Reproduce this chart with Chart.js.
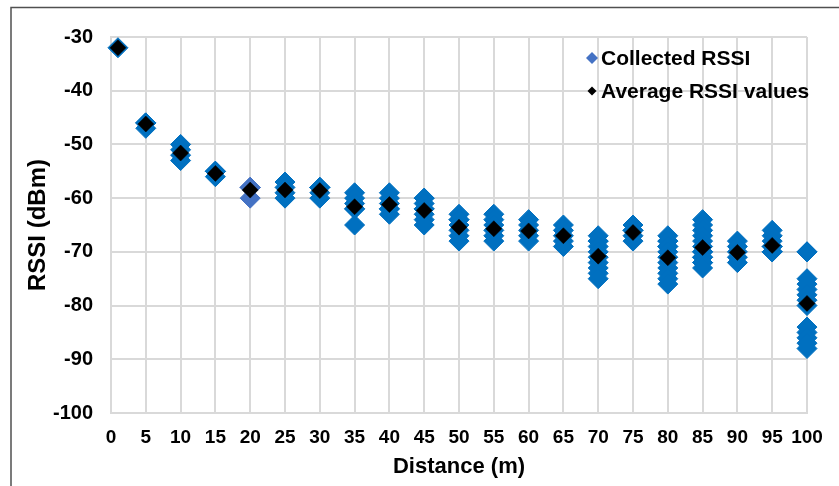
<!DOCTYPE html>
<html>
<head>
<meta charset="utf-8">
<script src="https://cdn.jsdelivr.net/npm/chart.js@4/dist/chart.umd.min.js"></script>
<style>
  html, body { margin: 0; padding: 0; background: #ffffff; }
  #wrap { width: 839px; height: 486px; }
</style>
</head>
<body>
<div id="wrap"><canvas id="rssi" width="839" height="486"></canvas></div>
<script>
// Measurement distances (m)
const distances = [1, 5, 10, 15, 20, 25, 30, 35, 40, 45, 50, 55, 60, 65, 70, 75, 80, 85, 90, 95, 100];

// Individual RSSI readings collected at each distance (dBm)
const collectedRssi = [
  [-32],
  [-46, -46, -46, -46, -47],
  [-50, -51, -52, -53],
  [-55, -55, -55, -56],
  [-58, -58, -58, -60],
  [-57, -58, -59, -60],
  [-58, -58, -58, -59, -60],
  [-59, -60, -61, -62, -62, -65],
  [-59, -60, -61, -62, -63, -62],
  [-60, -60, -61, -62, -62, -63, -64, -65],
  [-63, -64, -64, -65, -66, -67, -68],
  [-63, -64, -65, -66, -67, -68],
  [-64, -65, -66, -67, -68],
  [-65, -66, -67, -68, -69],
  [-67, -68, -68, -69, -70, -71, -72, -73, -74, -75],
  [-65, -66, -66, -67, -68],
  [-67, -68, -68, -69, -69, -70, -71, -72, -73, -74, -75, -76],
  [-64, -65, -66, -67, -68, -69, -70, -70, -71, -71, -72, -72, -73],
  [-68, -69, -70, -71, -72],
  [-66, -67, -68, -69, -69, -70, -70, -70],
  [-70, -70, -75, -76, -77, -78, -79, -80, -84, -85, -86, -87, -88]
];

// Average RSSI at each distance (dBm)
const averageRssi = [-32, -46.2, -51.6, -55.4, -58.5, -58.5, -58.6, -61.6, -61.2, -62.3,
  -65.4, -65.7, -66.1, -67.0, -70.8, -66.4, -71.1, -69.2, -70.1, -68.8, -79.6];

const seriesNames = ['Collected RSSI', 'Average RSSI values'];

const collectedPoints = distances.flatMap((d, i) => collectedRssi[i].map(v => ({ x: d, y: v })));
const averagePoints = distances.map((d, i) => ({ x: d, y: averageRssi[i] }));

const BLUE = '#0070C0';
const BLUE_ALT = '#4472C4';

// Outer frame around the chart
const framePlugin = {
  id: 'frame',
  beforeDraw(chart) {
    const ctx = chart.ctx;
    ctx.save();
    ctx.fillStyle = '#ffffff';
    ctx.fillRect(0, 0, chart.width, chart.height);
    ctx.strokeStyle = '#505050';
    ctx.lineWidth = 1.5;
    ctx.strokeRect(11, 7.5, 1000, 1000);
    ctx.restore();
  }
};

// Legend drawn inside the plot area, top right
const insetLegend = {
  id: 'insetLegend',
  afterDatasetsDraw(chart) {
    const ctx = chart.ctx;
    const items = [
      { text: seriesNames[0], color: BLUE_ALT, r: 6, y: 58 },
      { text: seriesNames[1], color: '#000000', r: 4.5, y: 91 }
    ];
    ctx.save();
    ctx.font = 'bold 21px "Liberation Sans", Arial, sans-serif';
    ctx.textBaseline = 'middle';
    ctx.textAlign = 'left';
    items.forEach(it => {
      const cx = 592;
      ctx.beginPath();
      ctx.moveTo(cx - it.r, it.y);
      ctx.lineTo(cx, it.y - it.r);
      ctx.lineTo(cx + it.r, it.y);
      ctx.lineTo(cx, it.y + it.r);
      ctx.closePath();
      ctx.fillStyle = it.color;
      ctx.fill();
      ctx.fillStyle = '#000000';
      ctx.fillText(it.text, 601, it.y + 1);
    });
    ctx.restore();
  }
};

Chart.defaults.font.family = '"Liberation Sans", Arial, sans-serif';
Chart.defaults.font.weight = 'bold';
Chart.defaults.color = '#000000';

new Chart(document.getElementById('rssi'), {
  type: 'scatter',
  data: {
    datasets: [
      {
        label: seriesNames[1],
        data: averagePoints,
        pointStyle: 'rectRot',
        pointRadius: 8,
        pointBorderWidth: 0.5,
        backgroundColor: '#000000',
        borderColor: '#000000',
        clip: false,
        order: 0
      },
      {
        label: seriesNames[0],
        data: collectedPoints,
        pointStyle: 'rectRot',
        pointRadius: 10,
        pointBorderWidth: 1,
        backgroundColor: ctx => (ctx.raw && ctx.raw.x === 20 ? BLUE_ALT : BLUE),
        borderColor: ctx => (ctx.raw && ctx.raw.x === 20 ? BLUE_ALT : BLUE),
        clip: false,
        order: 1
      }
    ]
  },
  options: {
    responsive: false,
    animation: false,
    devicePixelRatio: 1,
    events: [],
    layout: { padding: { top: 37, right: 32, left: 0, bottom: 0 } },
    plugins: {
      legend: { display: false },
      tooltip: { enabled: false }
    },
    scales: {
      x: {
        type: 'linear',
        min: 0,
        max: 100,
        afterFit: s => { s.height = 73; },
        ticks: {
          stepSize: 5,
          autoSkip: false,
          maxRotation: 0,
          padding: 13,
          color: '#000000',
          font: { size: 19, weight: 'bold' }
        },
        grid: { color: '#d9d9d9', lineWidth: 2, drawTicks: false },
        border: { color: '#d9d9d9', width: 2 },
        title: {
          display: true,
          text: 'Distance (m)',
          color: '#000000',
          font: { size: 22, weight: 'bold' },
          padding: { top: 0, bottom: 6 }
        }
      },
      y: {
        type: 'linear',
        min: -100,
        max: -30,
        afterFit: s => { s.width = 111; },
        ticks: {
          stepSize: 10,
          padding: 18,
          color: '#000000',
          font: { size: 20, weight: 'bold' },
          callback: v => String(v)
        },
        grid: { color: '#d9d9d9', lineWidth: 2, drawTicks: false },
        border: { color: '#d9d9d9', width: 2 },
        title: {
          display: true,
          text: 'RSSI (dBm)',
          color: '#000000',
          font: { size: 24, weight: 'bold' },
          padding: { top: 24, bottom: 0 }
        }
      }
    }
  },
  plugins: [framePlugin, insetLegend]
});
</script>
</body>
</html>
